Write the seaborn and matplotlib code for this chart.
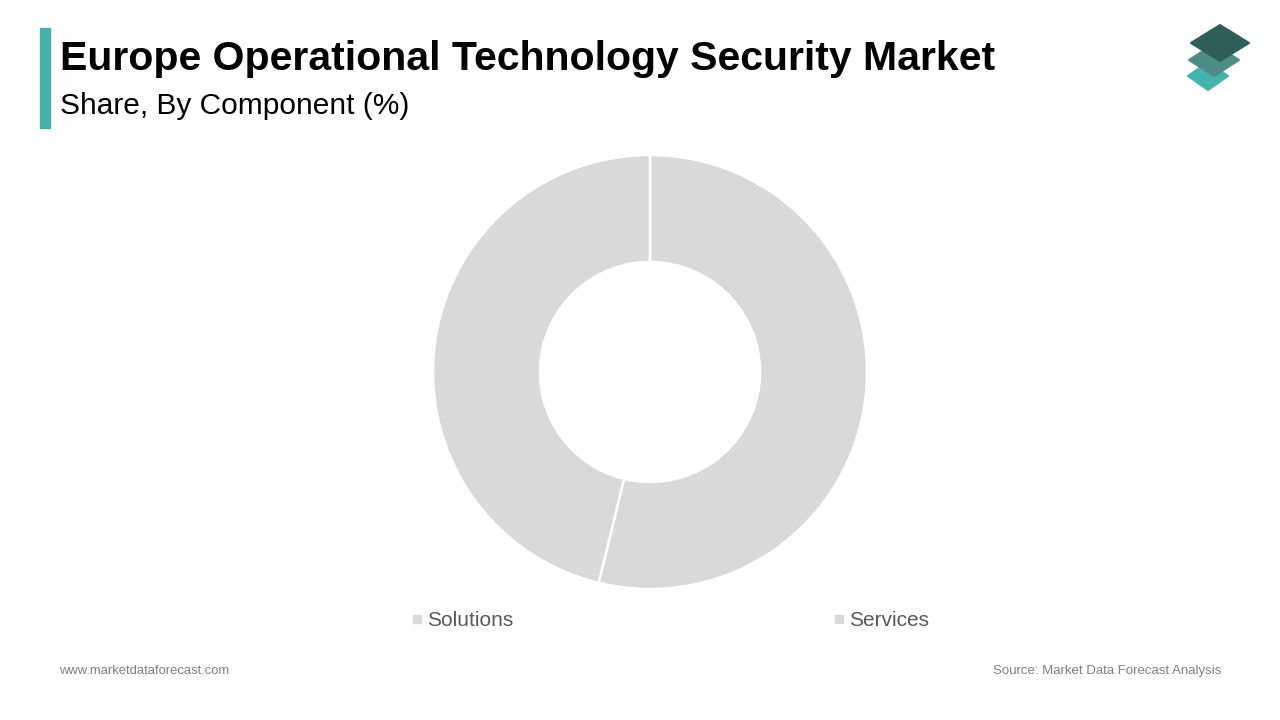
import matplotlib
matplotlib.use("Agg")
import matplotlib.pyplot as plt
import seaborn as sns
from matplotlib.lines import Line2D
from matplotlib.patches import Polygon, Rectangle

components = ["Solutions", "Services"]
shares = [53.8, 46.2]
title = "Europe Operational Technology Security Market"
subtitle = "Share, By Component (%)"
footer_left = "www.marketdataforecast.com"
footer_right = "Source: Market Data Forecast Analysis"

sns.set_theme(style="white")
plt.rcParams['font.family'] = ['Liberation Sans', 'DejaVu Sans']

W, H = 1280, 720
fig = plt.figure(figsize=(12.8, 7.2), dpi=100)
fig.patch.set_facecolor("white")

def fx(px):
    return px / W

def fy(py):
    return 1 - py / H

# donut axes
cx, cy, r = 650, 372, 217
ax = fig.add_axes([fx(cx - r), fy(cy + r), 2 * r / W, 2 * r / H])
colors = ["#d9d9d9"] * len(shares)
ax.pie(shares, colors=colors, startangle=90, counterclock=False,
       wedgeprops=dict(width=0.493, edgecolor="white", linewidth=1.8))
ax.set_xlim(-1, 1)
ax.set_ylim(-1, 1)
ax.set_aspect("equal")
ax.axis("off")

# header bar
fig.patches.append(Rectangle((fx(40), fy(128)), fx(50) - fx(40), fy(28) - fy(128),
                             transform=fig.transFigure, color="#48aea9", zorder=3))
fig.text(fx(60), fy(70), title, fontsize=29.5, fontweight="bold", color="black",
         va="baseline", ha="left")
fig.text(fx(60), fy(114), subtitle, fontsize=21.5, color="black", va="baseline", ha="left")

# logo
def diamond(cxp, cyp, hw, hh, color, z):
    pts = [(fx(cxp), fy(cyp - hh)), (fx(cxp + hw), fy(cyp)),
           (fx(cxp), fy(cyp + hh)), (fx(cxp - hw), fy(cyp))]
    fig.patches.append(Polygon(pts, closed=True, transform=fig.transFigure,
                               facecolor=color, edgecolor=color, linewidth=1.5,
                               joinstyle="round", zorder=z))

diamond(1208, 76, 20, 14, "#44b3ae", 5)
diamond(1214, 60, 25, 16, "#4f8c88", 6)
diamond(1220, 43, 29, 18, "#2f5f5b", 7)

# legend
handles = [Line2D([0], [0], marker="s", linestyle="none", markersize=6,
                  markerfacecolor=c, markeredgecolor=c) for c in colors]
fig.legend(handles, components, loc="center", bbox_to_anchor=(fx(669), fy(621)),
           ncol=2, frameon=False, fontsize=15, labelcolor="#595959",
           handletextpad=0.1, columnspacing=15.2, handlelength=0.8)

# footer
fig.text(fx(59), fy(671), footer_left, fontsize=9.4, color="#7f7f7f", va="center", ha="left")
fig.text(fx(1221), fy(671), footer_right, fontsize=9.5, color="#7f7f7f", va="center", ha="right")

fig.savefig("out.png", dpi=100, facecolor="white")
